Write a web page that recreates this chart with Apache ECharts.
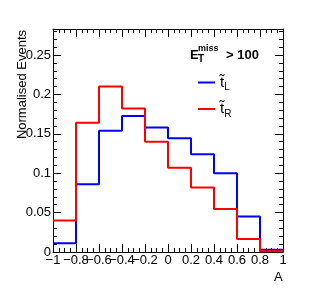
<!DOCTYPE html>
<html>
<head>
<meta charset="utf-8">
<script src="https://cdn.jsdelivr.net/npm/echarts@6/dist/echarts.min.js"></script>
<style>html,body{margin:0;padding:0;background:#fff}#c{width:315px;height:297px}</style>
</head>
<body>
<div id="c"></div>
<script>
const binEdges = [-1, -0.8, -0.6, -0.4, -0.2, 0, 0.2, 0.4, 0.6, 0.8, 1];
const stopL = [0.011, 0.086, 0.154, 0.1725, 0.158, 0.1445, 0.124, 0.100, 0.045, 0.003];
const stopR = [0.040, 0.164, 0.210, 0.182, 0.140, 0.107, 0.0818, 0.0547, 0.0165, 0.001];
const seriesNames = ['tL', 'tR'];
const seriesColors = ['#0000ff', '#ff0000'];
const xTitle = 'A';
const yTitle = 'Normalised Events';

function stepData(vals) {
  const d = vals.map((v, i) => [binEdges[i], v]);
  d.push([binEdges[binEdges.length - 1], vals[vals.length - 1]]);
  return d;
}
const font = 'Liberation Sans, Arial, sans-serif';
function axisStyle(split) {
  return {
    axisLine: { show: true, onZero: false, lineStyle: { color: '#000', width: 1 } },
    axisTick: { show: true, inside: true, length: 8, lineStyle: { color: '#000' } },
    minorTick: { show: true, splitNumber: split, length: 4, lineStyle: { color: '#000' } },
    splitLine: { show: false },
    minorSplitLine: { show: false }
  };
}
const chart = echarts.init(document.getElementById('c'), null, { renderer: 'canvas' });
chart.setOption({
  animation: false,
  backgroundColor: '#fff',
  grid: { left: 53, right: 32, top: 29, bottom: 45, containLabel: false },
  xAxis: [
    Object.assign({ type: 'value', min: -1, max: 1, interval: 0.2, position: 'bottom',
      axisLabel: { show: true, color: '#000', fontSize: 13, fontFamily: font, margin: 2,
        formatter: v => String(Math.round(v * 10) / 10).replace('-', '\u2212') } }, axisStyle(4)),
    Object.assign({ type: 'value', min: -1, max: 1, interval: 0.2, position: 'top',
      axisLabel: { show: false } }, axisStyle(4))
  ],
  yAxis: [
    Object.assign({ type: 'value', min: 0, max: 0.283, interval: 0.05, position: 'left',
      axisLabel: { show: true, color: '#000', fontSize: 13, fontFamily: font, margin: 2, showMaxLabel: false,
        formatter: v => String(Math.round(v * 100) / 100) } }, axisStyle(5)),
    Object.assign({ type: 'value', min: 0, max: 0.283, interval: 0.05, position: 'right',
      axisLabel: { show: false } }, axisStyle(5))
  ],
  legend: {
    orient: 'vertical', left: 193, top: 70, itemWidth: 17, itemHeight: 2, itemGap: 9,
    data: seriesNames.map(n => ({ name: n, icon: 'rect' })),
    formatter: n => '{t|t\u0303}{s|' + n.slice(1) + '}',
    textStyle: { color: '#000', fontFamily: font,
      rich: { t: { fontSize: 15, fontFamily: font, lineHeight: 18, verticalAlign: 'middle' },
              s: { fontSize: 10, fontFamily: font, padding: [10, 0, 0, 0], verticalAlign: 'bottom' } } }
  },
  graphic: [
    { type: 'text', left: 190, top: 49, style: { text: 'E', font: 'bold 13px ' + font, fill: '#000' } },
    { type: 'text', left: 198, top: 44, style: { text: 'miss', font: 'bold 9px ' + font, fill: '#000' } },
    { type: 'text', left: 198, top: 54, style: { text: 'T', font: 'bold 10px ' + font, fill: '#000' } },
    { type: 'text', left: 226, top: 49, style: { text: '> 100', font: 'bold 13px ' + font, fill: '#000' } },
    { type: 'text', x: 16, y: 30, rotation: Math.PI / 2, style: { text: yTitle, font: '13px ' + font, fill: '#000', align: 'right', verticalAlign: 'top' } },
    { type: 'text', left: 274, top: 271, style: { text: xTitle, font: '13px ' + font, fill: '#000' } }
  ],
  series: seriesNames.map((n, i) => ({
    name: n, type: 'line', step: 'end', symbol: 'none', xAxisIndex: 0, yAxisIndex: 0,
    data: stepData(i === 0 ? stopL : stopR),
    lineStyle: { color: seriesColors[i], width: 2 }, itemStyle: { color: seriesColors[i] }
  }))
});
</script>
</body>
</html>
